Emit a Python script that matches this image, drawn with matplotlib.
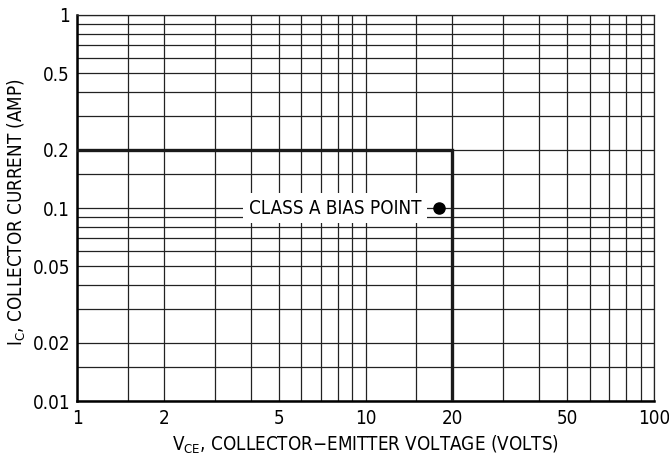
import matplotlib
matplotlib.use("Agg")
import matplotlib.pyplot as plt

plt.rcParams['font.family'] = ['DejaVu Sans']
plt.rcParams['font.stretch'] = 'condensed'
plt.rcParams['mathtext.fontset'] = 'custom'
plt.rcParams['mathtext.rm'] = 'DejaVu Sans:stretch=condensed'
plt.rcParams['mathtext.default'] = 'rm'

# tick labels
x_ticks = [1, 2, 5, 10, 20, 50, 100]
x_ticklabels = ['1', '2', '5', '10', '20', '50', '100']
y_ticks = [0.01, 0.02, 0.05, 0.1, 0.2, 0.5, 1]
y_ticklabels = ['0.01', '0.02', '0.05', '0.1', '0.2', '0.5', '1']

# grid lines of the chart paper
x_grid = [1.5, 3, 4, 6, 7, 8, 9, 15, 30, 40, 60, 70, 80, 90]
y_grid = [0.015, 0.03, 0.04, 0.06, 0.07, 0.08, 0.09, 0.15, 0.3, 0.4, 0.6, 0.7, 0.8, 0.9]

# operating boundary
soa_v = [1, 20, 20]
soa_i = [0.2, 0.2, 0.01]

# bias point
bias_v = [18]
bias_i = [0.1]

fs = 13.5

fig = plt.figure(figsize=(6.69, 4.61), dpi=100)
ax = fig.add_axes([77/669, 1-401/461, 577/669, 386/461])

ax.set_xscale('log')
ax.set_yscale('log')
ax.set_xlim(1, 100)
ax.set_ylim(0.01, 1)

ax.set_xticks(x_ticks)
ax.set_xticklabels(x_ticklabels)
ax.set_xticks(x_grid, minor=True)
ax.set_yticks(y_ticks)
ax.set_yticklabels(y_ticklabels)
ax.set_yticks(y_grid, minor=True)
ax.xaxis.set_minor_formatter(plt.NullFormatter())
ax.yaxis.set_minor_formatter(plt.NullFormatter())
ax.tick_params(which='both', length=0, labelsize=fs)
ax.tick_params(axis='x', pad=6)
ax.tick_params(axis='y', pad=5)

ax.grid(True, which='both', color='#222222', lw=0.9)
ax.set_axisbelow(True)

for s in ['top', 'right']:
    ax.spines[s].set_linewidth(0.9)
    ax.spines[s].set_color('#222222')
for s in ['left', 'bottom']:
    ax.spines[s].set_linewidth(1.8)

ax.plot(soa_v, soa_i, color='#1a1a1a', lw=2.4, solid_joinstyle='miter', zorder=3)
ax.plot(bias_v, bias_i, 'o', color='black', ms=8, zorder=4)
ax.annotate('CLASS A BIAS POINT', xy=(bias_v[0], bias_i[0]), xytext=(-13, 0),
            textcoords='offset points', ha='right', va='center', fontsize=fs,
            bbox=dict(boxstyle='square,pad=0.3', fc='white', ec='none'), zorder=5)

ax.set_xlabel(r'V$_{\mathrm{CE}}$, COLLECTOR$\mathrm{-}$EMITTER VOLTAGE (VOLTS)', fontsize=fs)
ax.set_ylabel(r'I$_{\mathrm{C}}$, COLLECTOR CURRENT (AMP)', fontsize=fs)
ax.xaxis.set_label_coords(0.5, -0.085)
ax.yaxis.set_label_coords(-0.085, 0.49)

fig.savefig('out.png', dpi=100)
